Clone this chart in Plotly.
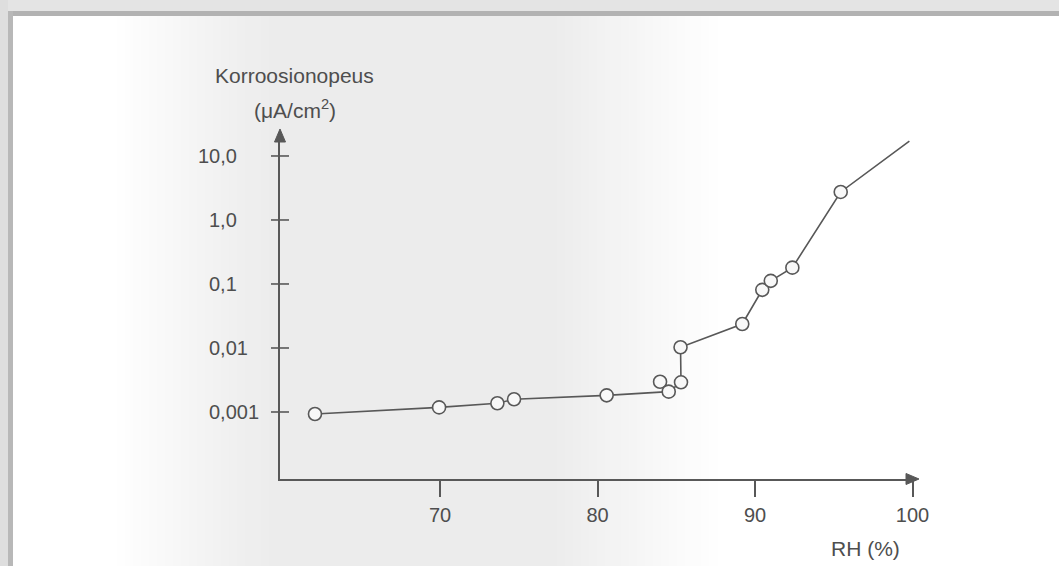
import math
import plotly.graph_objects as go

# ---------------- data ----------------
rh_points = [62.06, 69.94, 73.64, 74.70, 80.58, 83.97, 84.52, 85.30, 85.27,
             89.19, 90.46, 91.00, 92.37, 95.44]
rate_points = [0.00093, 0.00118, 0.00137, 0.00158, 0.00182, 0.00297, 0.00208,
               0.00291, 0.01026, 0.0237, 0.081, 0.112, 0.18, 2.74]
on_curve = [True, True, True, True, True, False, True,
            True, True, True, True, True, True, True]
rh_curve_end = 99.8
rate_curve_end = 17.1

x_tickvals = [70, 80, 90, 100]
x_ticktext = ["70", "80", "90", "100"]
y_tickvals = [10.0, 1.0, 0.1, 0.01, 0.001]
y_ticktext = ["10,0", "1,0", "0,1", "0,01", "0,001"]

y_title_1 = "Korroosionopeus"
y_title_2 = "(μA/cm<sup>2</sup>)"
x_title = "RH (%)"

# ---------------- layout geometry ----------------
W, H = 1059, 566
L, R, T, B = 280, 143, 133, 87
PW, PH = W - L - R, H - T - B
X_RANGE = [59.84, 100.22]
Y_RANGE = [-4.047, 1.359]

INK = "#585858"
TXT = "#4e4e4e"
FONT = "Liberation Sans, Arial, sans-serif"
TICK_FS = 20
TITLE_FS = 21


def px(xp):
    return (xp - L) / PW


def py(yp):
    return (H - B - yp) / PH


rh_curve = [r for r, c in zip(rh_points, on_curve) if c] + [rh_curve_end]
rate_curve = [v for v, c in zip(rate_points, on_curve) if c] + [rate_curve_end]

fig = go.Figure()
fig.add_trace(go.Scatter(
    x=rh_curve, y=rate_curve, mode="lines",
    line=dict(color=INK, width=1.6), hoverinfo="skip", showlegend=False))
fig.add_trace(go.Scatter(
    x=rh_points, y=rate_points, mode="markers",
    marker=dict(symbol="circle", size=13, color="#f8f8f8",
                line=dict(color=INK, width=1.6)),
    showlegend=False))

shapes = []


def hexgray(g):
    g = max(0, min(255, int(round(g))))
    return "#%02x%02x%02x" % (g, g, g)


# soft grey shading of the scanned page, fading to white on both sides
def shade(xc):
    lo = 236
    if xc < 110:
        return 255
    if xc < 270:
        return 255 - (255 - lo) * (xc - 110) / 160
    if xc < 550:
        return lo
    if xc < 720:
        return lo + (255 - lo) * (xc - 550) / 170
    return 255


step = 8
for x0 in range(13, 730, step):
    g = shade(x0 + step / 2)
    if g >= 254.5:
        continue
    shapes.append(dict(type="rect", xref="paper", yref="paper",
                       x0=px(x0), x1=px(x0 + step + 0.5), y0=py(H), y1=py(16),
                       fillcolor=hexgray(g), line=dict(width=0), layer="below"))

# frame of the scan
shapes += [
    dict(type="rect", xref="paper", yref="paper", x0=px(0), x1=px(W),
         y0=py(11), y1=py(0), fillcolor="#e4e4e4", line=dict(width=0), layer="below"),
    dict(type="rect", xref="paper", yref="paper", x0=px(0), x1=px(W),
         y0=py(16), y1=py(11), fillcolor="#b2b2b2", line=dict(width=0), layer="below"),
    dict(type="rect", xref="paper", yref="paper", x0=px(0), x1=px(8),
         y0=py(H), y1=py(0), fillcolor="#dedede", line=dict(width=0), layer="below"),
    dict(type="rect", xref="paper", yref="paper", x0=px(8), x1=px(13),
         y0=py(H), y1=py(11), fillcolor="#b8b8b8", line=dict(width=0), layer="below"),
]

# y-axis tick marks crossing the axis (shapes on log axes take data values)
for v in y_tickvals:
    shapes.append(dict(type="line", xref="paper", yref="y",
                       x0=px(L - 9), x1=px(L + 9), y0=v, y1=v,
                       line=dict(color=INK, width=1.6)))

# arrow heads
shapes.append(dict(type="path", xref="paper", yref="paper",
                   path="M %f %f L %f %f L %f %f Z" % (
                       px(L), py(129), px(L - 5.5), py(142), px(L + 5.5), py(142)),
                   fillcolor=INK, line=dict(color=INK, width=1)))
shapes.append(dict(type="path", xref="paper", yref="paper",
                   path="M %f %f L %f %f L %f %f Z" % (
                       px(W - R + 3), py(H - B), px(W - R - 10), py(H - B - 5.5),
                       px(W - R - 10), py(H - B + 5.5)),
                   fillcolor=INK, line=dict(color=INK, width=1)))

annotations = []
# y tick labels, aligned on the decimal comma (Arial metrics)
COMMA_X = 225
for v, t in zip(y_tickvals, y_ticktext):
    ip = t.split(",")[0]
    w_int = (len(ip) * 0.556 + 0.278) * TICK_FS
    annotations.append(dict(x=px(COMMA_X - w_int), y=math.log10(v),
                            xref="paper", yref="y", text=t, showarrow=False,
                            xanchor="left", yanchor="middle", borderpad=0,
                            font=dict(family=FONT, size=TICK_FS, color=TXT)))

annotations += [
    dict(x=px(294), y=py(75), xref="paper", yref="paper", text=y_title_1,
         showarrow=False, xanchor="center", yanchor="middle",
         font=dict(family=FONT, size=TITLE_FS, color=TXT)),
    dict(x=px(295), y=py(109), xref="paper", yref="paper", text=y_title_2,
         showarrow=False, xanchor="center", yanchor="middle",
         font=dict(family=FONT, size=TITLE_FS, color=TXT)),
    dict(x=px(865), y=py(548), xref="paper", yref="paper", text=x_title,
         showarrow=False, xanchor="center", yanchor="middle",
         font=dict(family=FONT, size=TITLE_FS, color=TXT)),
]

fig.update_layout(
    width=W, height=H,
    margin=dict(l=L, r=R, t=T, b=B, pad=0),
    paper_bgcolor="white", plot_bgcolor="rgba(0,0,0,0)",
    showlegend=False,
    shapes=shapes, annotations=annotations,
    xaxis=dict(range=X_RANGE, showgrid=False, zeroline=False,
               showline=True, linecolor=INK, linewidth=2,
               ticks="outside", ticklen=16, tickwidth=1.6, tickcolor=INK,
               tickvals=x_tickvals, ticktext=x_ticktext,
               ticklabelstandoff=1,
               tickfont=dict(family=FONT, size=TICK_FS, color=TXT)),
    yaxis=dict(type="log", range=Y_RANGE, showgrid=False, zeroline=False,
               showline=True, linecolor=INK, linewidth=2,
               ticks="", showticklabels=False),
)

fig.write_html(
    "out.html",
    config={"displayModeBar": False},
    post_script="document.body.style.margin='0px';"
                "document.body.style.overflow='hidden';",
)
